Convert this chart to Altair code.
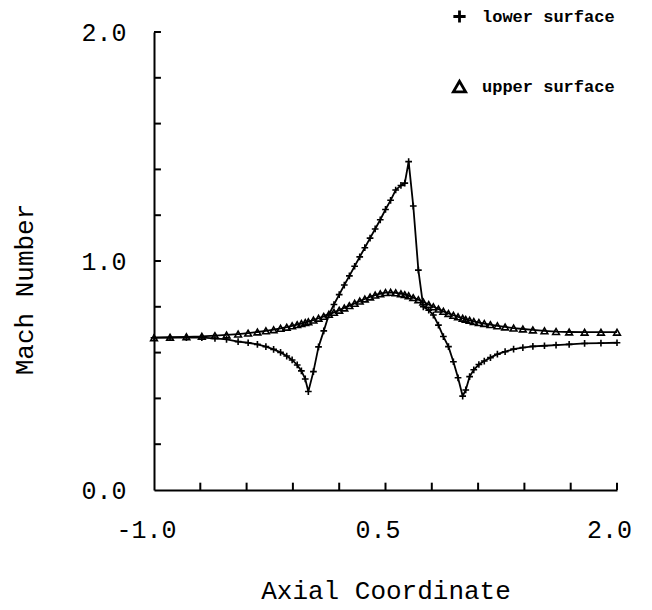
import altair as alt
import pandas as pd

# Shared grid of axial stations
x_grid = [-1.0, -0.896, -0.79, -0.69, -0.605, -0.53, -0.455, -0.39, -0.33, -0.275,
          -0.225, -0.18, -0.14, -0.105, -0.072, -0.045, -0.02,
          0.0, 0.033, 0.066, 0.1, 0.133, 0.166, 0.2, 0.233, 0.266, 0.3, 0.333,
          0.366, 0.4, 0.433, 0.466, 0.5, 0.533, 0.566, 0.6, 0.625, 0.65, 0.68,
          0.713, 0.745, 0.78, 0.81, 0.843, 0.875, 0.908, 0.94, 0.97, 1.0,
          1.02, 1.045, 1.072, 1.105, 1.14, 1.18, 1.225, 1.275, 1.33, 1.39,
          1.455, 1.53, 1.605, 1.69, 1.79, 1.896, 2.0]

lower_mach = [0.665, 0.665, 0.665, 0.665, 0.662, 0.658, 0.648, 0.643, 0.636, 0.626,
              0.614, 0.601, 0.585, 0.568, 0.546, 0.52, 0.485,
              0.43, 0.517, 0.625, 0.695, 0.765, 0.81, 0.853, 0.895, 0.935, 0.977, 1.018,
              1.058, 1.10, 1.14, 1.18, 1.225, 1.265, 1.31, 1.33, 1.34, 1.434, 1.24,
              0.96, 0.80, 0.785, 0.764, 0.72, 0.67, 0.626, 0.56, 0.49, 0.41,
              0.437, 0.495, 0.525, 0.548, 0.563, 0.578, 0.593, 0.604, 0.615, 0.622,
              0.627, 0.63, 0.633, 0.636, 0.64, 0.641, 0.643]

upper_mach = [0.665, 0.667, 0.669, 0.671, 0.674, 0.677, 0.681, 0.685, 0.69, 0.695,
              0.70, 0.706, 0.711, 0.717, 0.722, 0.727, 0.731,
              0.735, 0.742, 0.75, 0.758, 0.767, 0.776, 0.785, 0.795, 0.805, 0.815, 0.825,
              0.834, 0.843, 0.851, 0.857, 0.862, 0.863, 0.861, 0.857, 0.853, 0.848, 0.84,
              0.831, 0.821, 0.81, 0.80, 0.79, 0.78, 0.771, 0.763, 0.756, 0.75,
              0.745, 0.741, 0.736, 0.731, 0.727, 0.722, 0.717, 0.712, 0.707, 0.703,
              0.699, 0.695, 0.692, 0.69, 0.689, 0.689, 0.689]

series_names = ["lower surface", "upper surface"]
x_tick_values = [-0.7, -0.4, -0.1, 0.2, 0.5, 0.8, 1.1, 1.4, 1.7, 2.0]
y_tick_values = [0.2, 0.4, 0.6, 0.8, 1.0, 1.2, 1.4, 1.6, 1.8, 2.0]
x_label_values = [-1.0, 0.5, 2.0]
y_label_values = [0.0, 1.0, 2.0]

rows = []
for name, vals in zip(series_names, [lower_mach, upper_mach]):
    for xv, mv in zip(x_grid, vals):
        rows.append({"x": xv, "m": mv, "series": name})
df = pd.DataFrame(rows)

FONT = "Liberation Mono"
xs = alt.Scale(domain=[-1, 2], nice=False, zero=False)
ys = alt.Scale(domain=[0, 2], nice=False, zero=False)

x_axis = alt.Axis(
    values=x_label_values, ticks=False, tickSize=0, grid=False,
    labelExpr="datum.value < 0 ? '-' + format(-datum.value, '.1f') : format(datum.value, '.1f')",
    labelFont=FONT, labelFontSize=25, labelColor="black", labelPadding=27, labelOffset=-8,
    labelFlush=False, labelOverlap=False,
    domainColor="black", domainWidth=2,
    title="Axial Coordinate", titleFont=FONT, titleFontSize=26, titleFontWeight="normal",
    titleColor="black", titleY=100, titleBaseline="middle",
)
y_axis = alt.Axis(
    values=y_label_values, ticks=False, tickSize=0, grid=False,
    labelExpr="format(datum.value, '.1f')",
    labelFont=FONT, labelFontSize=25, labelColor="black", labelPadding=28,
    labelFlush=False, labelOverlap=False,
    domainColor="black", domainWidth=2,
    title="Mach Number", titleFont=FONT, titleFontSize=26, titleFontWeight="normal",
    titleColor="black", titleX=-130, titleY=257, titleAngle=-90,
    titleAlign="center", titleBaseline="middle",
)

plus_path = "M -1 0 L 1 0 M 0 -1 L 0 1"

base = alt.Chart(df)
lines = base.mark_line(color="black", strokeWidth=1.8).encode(
    x=alt.X("x:Q", scale=xs, axis=x_axis),
    y=alt.Y("m:Q", scale=ys, axis=y_axis),
    detail="series:N",
)
points = base.mark_point(filled=False, color="black", strokeWidth=1.6, size=45, opacity=1).encode(
    x=alt.X("x:Q", scale=xs, axis=x_axis),
    y=alt.Y("m:Q", scale=ys, axis=y_axis),
    shape=alt.Shape(
        "series:N",
        scale=alt.Scale(domain=series_names, range=[plus_path, "triangle-up"]),
        legend=alt.Legend(
            title=None, orient="none", legendX=297, legendY=-24, padding=0,
            labelFont=FONT, labelFontWeight="bold", labelFontSize=17, labelColor="black",
            symbolSize=150, symbolStrokeWidth=2.8, symbolStrokeColor="black",
            symbolFillColor="transparent", rowPadding=46, labelOffset=14,
        ),
    ),
)

xticks = alt.Chart(pd.DataFrame({"x": x_tick_values})).mark_rule(color="black", strokeWidth=2).encode(
    x=alt.X("x:Q", scale=xs, axis=x_axis),
    y=alt.datum(0),
    y2=alt.datum(0.032),
)
yticks = alt.Chart(pd.DataFrame({"m": y_tick_values})).mark_rule(color="black", strokeWidth=2).encode(
    y=alt.Y("m:Q", scale=ys, axis=y_axis),
    x=alt.datum(-1),
    x2=alt.datum(-0.955),
)

chart = alt.layer(lines, points, xticks, yticks).properties(
    width=463, height=458,
    autosize=alt.AutoSizeParams(type="none"),
    padding={"left": 154, "top": 32, "right": 35, "bottom": 120},
    background="white",
).configure_view(stroke=None)

chart.save("out.html", embed_options={"renderer": "svg", "actions": False})
